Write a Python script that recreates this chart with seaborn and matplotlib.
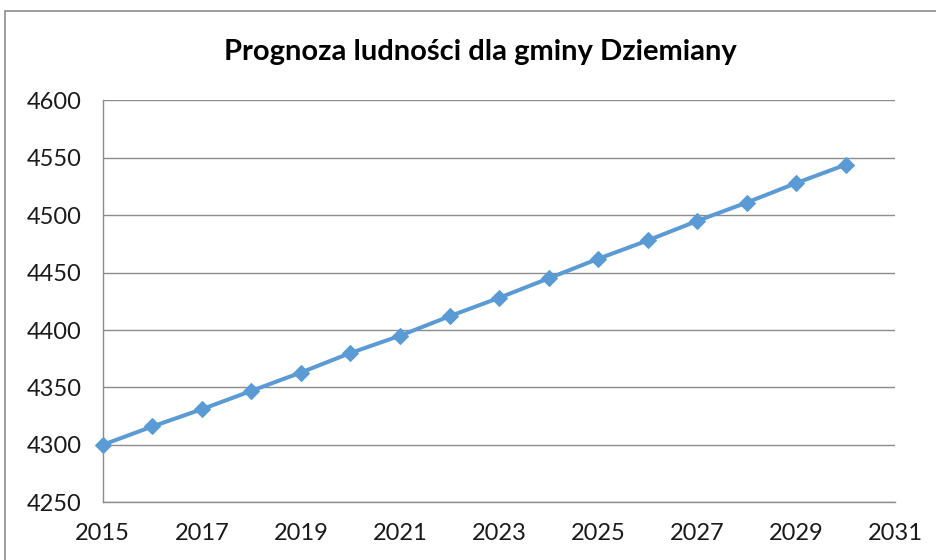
import numpy as np
import pandas as pd
import matplotlib
matplotlib.use("Agg")
import matplotlib.pyplot as plt
from matplotlib.patches import Rectangle
import seaborn as sns

# Dane
lata = [2015, 2016, 2017, 2018, 2019, 2020, 2021, 2022,
        2023, 2024, 2025, 2026, 2027, 2028, 2029, 2030]
ludnosc = [4300, 4316, 4331, 4347, 4363, 4380, 4395, 4412,
           4428, 4445, 4462, 4478, 4495, 4511, 4528, 4544]
y_ticks = [4250, 4300, 4350, 4400, 4450, 4500, 4550, 4600]
x_ticks = list(range(2015, 2032, 2))
tytul = "Prognoza ludności dla gminy Dziemiany"

df = pd.DataFrame({"rok": lata, "ludnosc": ludnosc})

sns.set_style("white")
plt.rcParams["font.family"] = ["Lato", "DejaVu Sans"]

fig = plt.figure(figsize=(9.36, 5.6), dpi=100)
ax = fig.add_axes([102.7 / 936, 1 - 502.3 / 560, (895.5 - 102.7) / 936, (502.3 - 100.3) / 560])

# ramka obszaru wykresu
fig.patches.append(Rectangle((5 / 936, -0.1), 1.2, 1 - 11 / 560 + 0.1,
                             transform=fig.transFigure, fill=False,
                             edgecolor="#8c8c8c", linewidth=1.2, zorder=0))

sns.lineplot(data=df, x="rok", y="ludnosc", ax=ax, color="#5B9BD5",
             linewidth=2.9, marker="D", markersize=8.5,
             markeredgecolor="#5B9BD5", clip_on=False, zorder=3)

ax.set_xlim(2015, 2031)
ax.set_ylim(4250, 4600)
ax.set_xticks(x_ticks)
ax.set_yticks(y_ticks)
ax.grid(axis="y", color="#8c8c8c", linewidth=1.0)
ax.grid(axis="x", visible=False)

for s in ["top", "right"]:
    ax.spines[s].set_visible(False)
for s in ["left", "bottom"]:
    ax.spines[s].set_color("#8c8c8c")
    ax.spines[s].set_linewidth(1.0)

ax.tick_params(axis="both", which="major", direction="out", length=7,
               width=1.0, color="#8c8c8c", labelsize=17,
               labelcolor="#1a1a1a")
ax.tick_params(axis="y", pad=8)
ax.tick_params(axis="x", pad=8)
ax.set_xlabel("")
ax.set_ylabel("")

fig.text(480 / 936, 1 - 52 / 560, tytul,
         ha="center", va="center", fontsize=21, fontweight="bold",
         color="#000000")

fig.savefig("out.png", dpi=100)
